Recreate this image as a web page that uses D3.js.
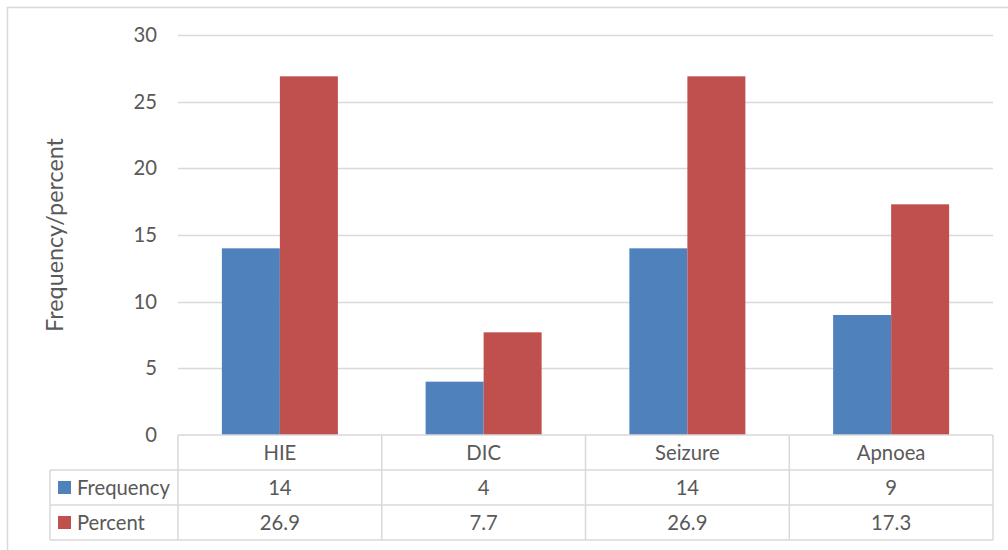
<!DOCTYPE html>
<html><head><meta charset="utf-8">
<script src="https://cdn.jsdelivr.net/npm/d3@7"></script>
<style>body{margin:0;background:#fff}svg{display:block}</style>
</head><body>
<svg id="c" width="1008" height="550"></svg>
<script>
const categories = ["HIE","DIC","Seizure","Apnoea"];
const seriesNames = ["Frequency","Percent"];
const frequency = [14,4,14,9];
const percent = [26.9,7.7,26.9,17.3];
const yTicks = [0,5,10,15,20,25,30];
const colors = ["#4F81BD","#C0504D"];
const series = [frequency, percent];

const svg = d3.select("#c");
const font = "Lato, 'Open Sans', sans-serif";
const textColor = "#595959";
const lineColor = "#D9D9D9";

// measure to fit sizes similar to the reference's Calibri
function fitSize(str, target){
  const t = svg.append("text").attr("font-family",font).attr("font-size",20).text(str);
  const w = t.node().getComputedTextLength(); t.remove();
  return 20*target/w;
}
const fs = Math.min(21, fitSize("Frequency",93));
const titleFs = Math.min(24, fitSize("Frequency/percent",194));

svg.append("rect").attr("x",7.5).attr("y",7.5).attr("width",1010).attr("height",570)
  .attr("fill","#fff").attr("stroke",lineColor).attr("stroke-width",1.5);

const L=178, R=993, T=35, B=435;
const x = d3.scaleBand().domain(categories).range([L,R]);
const y = d3.scaleLinear().domain([0,30]).range([B,T]);
const barW = 58;

svg.append("g").selectAll("line").data(yTicks.filter(d=>d>0)).join("line")
  .attr("x1",L).attr("x2",R).attr("y1",d=>Math.round(y(d))+0.5).attr("y2",d=>Math.round(y(d))+0.5)
  .attr("stroke",lineColor).attr("stroke-width",1.5);

svg.append("g").selectAll("text").data(yTicks).join("text")
  .attr("x",157).attr("y",d=>y(d)).attr("dy","0.35em").attr("text-anchor","end")
  .attr("font-family",font).attr("font-size",fs).attr("fill",textColor).text(d=>d);

series.forEach((vals,si)=>{
  svg.append("g").selectAll("rect").data(vals).join("rect")
    .attr("x",(d,i)=>x(categories[i])+x.bandwidth()/2-barW+si*barW)
    .attr("width",barW)
    .attr("y",d=>y(d)).attr("height",d=>B-y(d))
    .attr("fill",colors[si]);
});

svg.append("text").attr("transform","translate(55,235) rotate(-90)")
  .attr("text-anchor","middle").attr("dy","0.35em").attr("font-family",font).attr("font-size",titleFs)
  .attr("fill",textColor).text("Frequency/percent");

const rowBot=540, tableL=50;
const g = svg.append("g").attr("stroke",lineColor).attr("stroke-width",1.5);
g.append("line").attr("x1",L).attr("x2",R).attr("y1",435).attr("y2",435);
[470,505,540].forEach(yy=>g.append("line").attr("x1",tableL).attr("x2",R).attr("y1",yy).attr("y2",yy));
g.append("line").attr("x1",tableL).attr("x2",tableL).attr("y1",470).attr("y2",rowBot);
categories.forEach(c=>g.append("line").attr("x1",x(c)).attr("x2",x(c)).attr("y1",435).attr("y2",rowBot));
g.append("line").attr("x1",R).attr("x2",R).attr("y1",435).attr("y2",rowBot);

svg.append("g").selectAll("text").data(categories).join("text")
  .attr("x",d=>x(d)+x.bandwidth()/2).attr("y",452.5).attr("dy","0.35em")
  .attr("text-anchor","middle").attr("font-family",font).attr("font-size",fs)
  .attr("fill",textColor).text(d=>d);

series.forEach((vals,si)=>{
  const cy = 487.5 + si*35;
  svg.append("rect").attr("x",58).attr("y",cy-6.5).attr("width",13).attr("height",13).attr("fill",colors[si]);
  svg.append("text").attr("x",77).attr("y",cy).attr("dy","0.35em")
    .attr("font-family",font).attr("font-size",fs).attr("fill",textColor).text(seriesNames[si]);
  svg.append("g").selectAll("text").data(vals).join("text")
    .attr("x",(d,i)=>x(categories[i])+x.bandwidth()/2).attr("y",cy).attr("dy","0.35em")
    .attr("text-anchor","middle").attr("font-family",font).attr("font-size",fs)
    .attr("fill",textColor).text(d=>d);
});
</script>
</body></html>
